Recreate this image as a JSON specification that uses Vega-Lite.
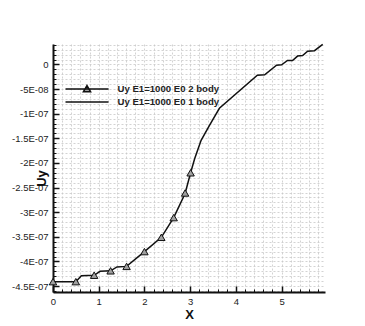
{
  "$schema": "https://vega.github.io/schema/vega-lite/v6.json",
  "width": 272,
  "height": 248,
  "autosize": {"type": "none"},
  "padding": {"left": 53, "top": 44, "right": 40, "bottom": 34},
  "background": "white",
  "config": {
    "view": {"stroke": null},
    "font": "Liberation Sans"
  },
  "data": {
    "values": [
      {"series": "Uy E1=1000 E0 1 body", "x": 0, "y": -4.41e-7},
      {"series": "Uy E1=1000 E0 1 body", "x": 0.5, "y": -4.41e-7},
      {"series": "Uy E1=1000 E0 1 body", "x": 0.62, "y": -4.29e-7},
      {"series": "Uy E1=1000 E0 1 body", "x": 0.9, "y": -4.28e-7},
      {"series": "Uy E1=1000 E0 1 body", "x": 1.03, "y": -4.2e-7},
      {"series": "Uy E1=1000 E0 1 body", "x": 1.26, "y": -4.19e-7},
      {"series": "Uy E1=1000 E0 1 body", "x": 1.4, "y": -4.11e-7},
      {"series": "Uy E1=1000 E0 1 body", "x": 1.61, "y": -4.1e-7},
      {"series": "Uy E1=1000 E0 1 body", "x": 2.0, "y": -3.8e-7},
      {"series": "Uy E1=1000 E0 1 body", "x": 2.37, "y": -3.51e-7},
      {"series": "Uy E1=1000 E0 1 body", "x": 2.64, "y": -3.11e-7},
      {"series": "Uy E1=1000 E0 1 body", "x": 2.89, "y": -2.62e-7},
      {"series": "Uy E1=1000 E0 1 body", "x": 3.01, "y": -2.2e-7},
      {"series": "Uy E1=1000 E0 1 body", "x": 3.1, "y": -1.91e-7},
      {"series": "Uy E1=1000 E0 1 body", "x": 3.24, "y": -1.54e-7},
      {"series": "Uy E1=1000 E0 1 body", "x": 3.42, "y": -1.24e-7},
      {"series": "Uy E1=1000 E0 1 body", "x": 3.64, "y": -8.9e-8},
      {"series": "Uy E1=1000 E0 1 body", "x": 4.47, "y": -2.2e-8},
      {"series": "Uy E1=1000 E0 1 body", "x": 4.63, "y": -2.1e-8},
      {"series": "Uy E1=1000 E0 1 body", "x": 4.89, "y": -1.4e-9},
      {"series": "Uy E1=1000 E0 1 body", "x": 5.0, "y": -6e-10},
      {"series": "Uy E1=1000 E0 1 body", "x": 5.13, "y": 8e-9},
      {"series": "Uy E1=1000 E0 1 body", "x": 5.24, "y": 8e-9},
      {"series": "Uy E1=1000 E0 1 body", "x": 5.35, "y": 1.7e-8},
      {"series": "Uy E1=1000 E0 1 body", "x": 5.46, "y": 1.8e-8},
      {"series": "Uy E1=1000 E0 1 body", "x": 5.57, "y": 2.7e-8},
      {"series": "Uy E1=1000 E0 1 body", "x": 5.72, "y": 2.8e-8},
      {"series": "Uy E1=1000 E0 1 body", "x": 5.9, "y": 4.06e-8},
      {"series": "Uy E1=1000 E0 2 body", "x": 0, "y": -4.41e-7},
      {"series": "Uy E1=1000 E0 2 body", "x": 0.5, "y": -4.41e-7},
      {"series": "Uy E1=1000 E0 2 body", "x": 0.9, "y": -4.28e-7},
      {"series": "Uy E1=1000 E0 2 body", "x": 1.26, "y": -4.19e-7},
      {"series": "Uy E1=1000 E0 2 body", "x": 1.61, "y": -4.1e-7},
      {"series": "Uy E1=1000 E0 2 body", "x": 2.0, "y": -3.8e-7},
      {"series": "Uy E1=1000 E0 2 body", "x": 2.37, "y": -3.51e-7},
      {"series": "Uy E1=1000 E0 2 body", "x": 2.64, "y": -3.11e-7},
      {"series": "Uy E1=1000 E0 2 body", "x": 2.89, "y": -2.61e-7},
      {"series": "Uy E1=1000 E0 2 body", "x": 3.01, "y": -2.2e-7}
    ]
  },
  "encoding": {
    "x": {
      "field": "x",
      "type": "quantitative",
      "scale": {"domain": [0, 5.95], "nice": false, "zero": false},
      "axis": {
        "values": [0, 0.2, 0.4, 0.6, 0.8, 1, 1.2, 1.4, 1.6, 1.8, 2, 2.2, 2.4, 2.6, 2.8, 3, 3.2, 3.4, 3.6, 3.8, 4, 4.2, 4.4, 4.6, 4.8, 5, 5.2, 5.4, 5.6, 5.8],
        "title": "X",
        "titleFontWeight": "bold",
        "titleFontSize": 13,
        "titleColor": "#111",
        "titleX": 136,
        "titleY": 16,
        "titleAlign": "center",
        "titleBaseline": "top",
        "grid": true,
        "gridColor": "#c8c8c8",
        "gridDash": [2, 2],
        "gridWidth": 0.8,
        "domainColor": "#111",
        "domainWidth": 2,
        "tickColor": "#111",
        "tickSize": {"condition": {"test": "abs(datum.value - round(datum.value)) < 0.001", "value": -6}, "value": -3},
        "tickWidth": {"condition": {"test": "abs(datum.value - round(datum.value)) < 0.001", "value": 1.5}, "value": 1},
        "labelPadding": 10,
        "labelExpr": "abs(datum.value - round(datum.value)) < 0.001 ? '' + round(datum.value) : ''",
        "labelFontSize": 9.5,
        "labelColor": "#222",
        "labelFlush": false,
        "labelOverlap": false
      }
    },
    "y": {
      "field": "y",
      "type": "quantitative",
      "scale": {"domain": [-4.62e-7, 4.15e-8], "nice": false, "zero": false},
      "axis": {
        "values": [4e-8, 3e-8, 2e-8, 1e-8, 0, -1e-8, -2e-8, -3e-8, -4e-8, -5e-8, -6e-8, -7e-8, -8e-8, -9e-8, -1e-7, -1.1e-7, -1.2e-7, -1.3e-7, -1.4e-7, -1.5e-7, -1.6e-7, -1.7e-7, -1.8e-7, -1.9e-7, -2e-7, -2.1e-7, -2.2e-7, -2.3e-7, -2.4e-7, -2.5e-7, -2.6e-7, -2.7e-7, -2.8e-7, -2.9e-7, -3e-7, -3.1e-7, -3.2e-7, -3.3e-7, -3.4e-7, -3.5e-7, -3.6e-7, -3.7e-7, -3.8e-7, -3.9e-7, -4e-7, -4.1e-7, -4.2e-7, -4.3e-7, -4.4e-7, -4.5e-7, -4.6e-7],
        "title": "Uy",
        "titleFontWeight": "bold",
        "titleFontSize": 13,
        "titleColor": "#111",
        "titleAngle": -90,
        "titleX": -12,
        "titleY": 134,
        "titleAlign": "center",
        "titleBaseline": "middle",
        "grid": true,
        "gridColor": "#c8c8c8",
        "gridDash": [2, 2],
        "gridWidth": 0.8,
        "domainColor": "#111",
        "domainWidth": 2,
        "tickColor": "#111",
        "tickSize": {"condition": {"test": "abs(datum.value / 5e-8 - round(datum.value / 5e-8)) < 0.01", "value": -6}, "value": -3},
        "tickWidth": {"condition": {"test": "abs(datum.value / 5e-8 - round(datum.value / 5e-8)) < 0.01", "value": 1.5}, "value": 1},
        "labelPadding": 11,
        "labelExpr": "abs(datum.value / 5e-8 - round(datum.value / 5e-8)) > 0.01 ? '' : (abs(datum.value) < 1e-12 ? '0' : (datum.value > -0.9e-7 ? round(datum.value * 1e8) + 'E-08' : round(datum.value * 1e8) / 10 + 'E-07'))",
        "labelFontSize": 9.5,
        "labelColor": "#222",
        "labelFlush": false,
        "labelOverlap": false
      }
    }
  },
  "layer": [
    {
      "transform": [{"filter": "datum.series == 'Uy E1=1000 E0 1 body'"}],
      "mark": {"type": "line", "color": "#111", "strokeWidth": 1.5}
    },
    {
      "transform": [{"filter": "datum.series == 'Uy E1=1000 E0 2 body'"}],
      "mark": {"type": "point", "shape": "triangle-up", "filled": true, "fill": "#a0a0a0", "stroke": "#111", "strokeWidth": 1, "size": 55, "opacity": 1}
    },
    {
      "mark": {"type": "point", "filled": true, "fill": "#a0a0a0", "stroke": "#111", "strokeWidth": 1.2, "opacity": 0},
      "encoding": {
        "shape": {
          "field": "series",
          "type": "nominal",
          "scale": {
            "domain": ["Uy E1=1000 E0 2 body", "Uy E1=1000 E0 1 body"],
            "range": ["M-5.375,0H5.375M0,-0.85L0.9,0.7L-0.9,0.7Z", "M-5.375,0H5.375"]
          },
          "legend": {
            "orient": "none",
            "legendX": 29,
            "legendY": 40,
            "title": null,
            "padding": 0,
            "labelFontWeight": "bold",
            "labelFontSize": 9.6,
            "labelColor": "#222",
            "labelOffset": 25.5,
            "symbolSize": 64,
            "rowPadding": 2,
            "encode": {
              "symbols": {
                "update": {
                  "fill": {"value": "#a0a0a0"},
                  "stroke": {"value": "#111"},
                  "strokeWidth": {"value": 1.2},
                  "opacity": {"value": 1},
                  "fillOpacity": {"value": 1},
                  "strokeOpacity": {"value": 1}
                }
              }
            }
          }
        }
      }
    }
  ]
}
